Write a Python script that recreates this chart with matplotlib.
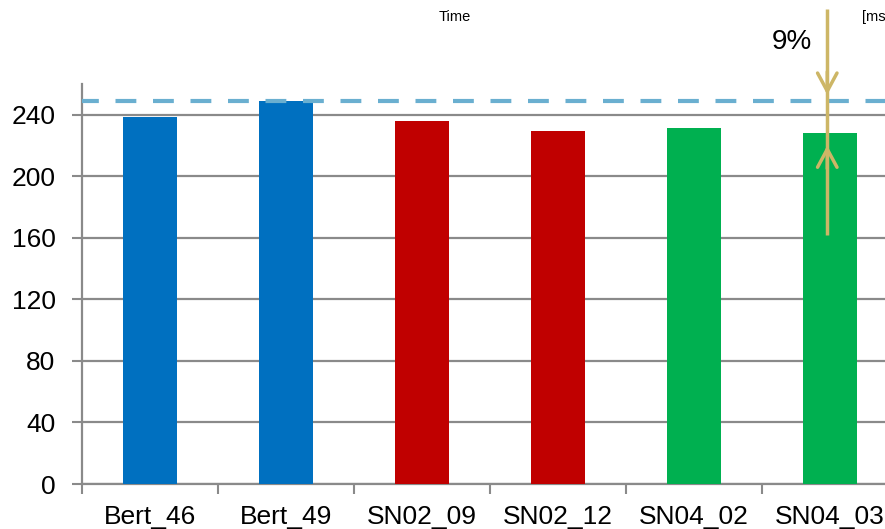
import matplotlib
matplotlib.use("Agg")
import matplotlib.pyplot as plt
import numpy as np

categories = ["Bert_46", "Bert_49", "SN02_09", "SN02_12", "SN04_02", "SN04_03"]
values = [238.5, 249, 236, 229.5, 231.5, 228]
colors = ["#0070C0", "#0070C0", "#C00000", "#C00000", "#00B050", "#00B050"]
ref_line = 249
arrow_low_start = 162
arrow_top_start = 309
head_down_tip = 253
head_up_tip = 220
yticks = [0, 40, 80, 120, 160, 200, 240]

plt.rcParams['font.family'] = ['Liberation Sans', 'DejaVu Sans']

fig = plt.figure(figsize=(8.85, 5.29), dpi=100)
ax = fig.add_axes([82/885, 45/529, 816/885, 400/529])

x = np.arange(len(categories))
ax.bar(x, values, width=0.4, color=colors, zorder=3)

ax.set_xlim(-0.5, 5.5)
ax.set_ylim(0, 260)
ax.set_yticks(yticks)
ax.set_xticks(x)
ax.set_xticklabels(categories)
ax.set_xticks(np.arange(-0.5, 6.0, 1.0), minor=True)
ax.tick_params(axis='x', which='major', length=0, pad=15, labelsize=19)
ax.tick_params(axis='x', which='minor', length=7, width=1.5, color='#8a8a8a', direction='out')
ax.tick_params(axis='y', length=7, width=1.5, color='#8a8a8a', pad=12, labelsize=19)

ax.grid(axis='y', color='#8a8a8a', linewidth=1.6, zorder=1)
for s in ['top', 'right']:
    ax.spines[s].set_visible(False)
for s in ['left', 'bottom']:
    ax.spines[s].set_color('#8a8a8a')
    ax.spines[s].set_linewidth(1.6)

ax.axhline(ref_line, color='#6AAFD0', linewidth=3, dashes=(5, 4), zorder=4, xmin=-0.005)

gold = '#CDB666'
ax_x = 5 - 0.02
ax.plot([ax_x, ax_x], [arrow_low_start, arrow_top_start], color=gold, lw=2.5,
        clip_on=False, zorder=5, solid_capstyle='butt')
style = '->,head_length=1.3,head_width=0.7'
ax.annotate('', xy=(ax_x, head_down_tip), xytext=(ax_x, head_down_tip + 15),
            arrowprops=dict(arrowstyle=style, color=gold, lw=2.5, shrinkA=0, shrinkB=0),
            annotation_clip=False, zorder=5)
ax.annotate('', xy=(ax_x, head_up_tip), xytext=(ax_x, head_up_tip - 15),
            arrowprops=dict(arrowstyle=style, color=gold, lw=2.5, shrinkA=0, shrinkB=0),
            annotation_clip=False, zorder=5)

fig.text(792/885, 1 - 42/529, "9%", fontsize=20, ha='center', va='center')
fig.text(455/885, 1 - 17/529, "Time", fontsize=10.5, ha='center', va='center')
fig.text(862/885, 1 - 17/529, "[ms]", fontsize=10.5, ha='left', va='center')

fig.savefig("out.png", dpi=100)
